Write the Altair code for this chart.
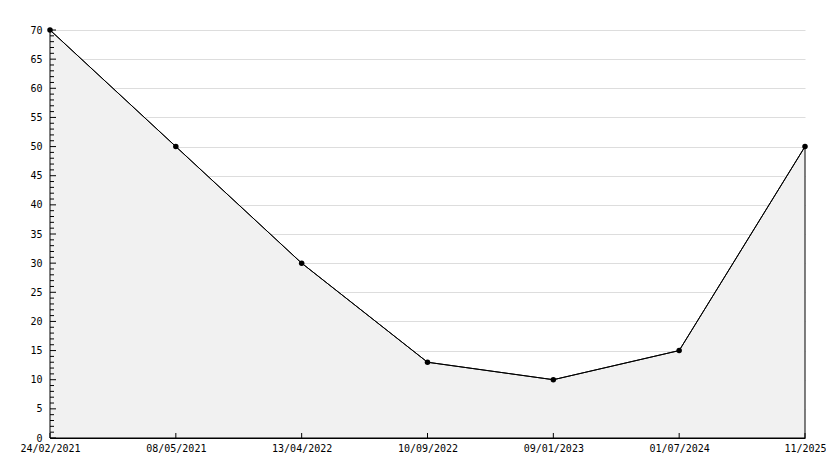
import altair as alt
import pandas as pd

labels = ["24/02/2021", "08/05/2021", "13/04/2022", "10/09/2022", "09/01/2023", "01/07/2024", "11/2025"]
values = [70, 50, 30, 13, 10, 15, 50]
y_ticks = list(range(0, 71))
y_label_values = list(range(0, 71, 5))

df = pd.DataFrame({"date": labels, "value": values})
ticks_df = pd.DataFrame({"t": y_ticks})
minor_df = ticks_df[ticks_df["t"] % 5 != 0]
major_df = ticks_df[ticks_df["t"] % 5 == 0]

W, H = 755, 408
FONT = "DejaVu Sans Mono"

xscale = alt.Scale(type="point", padding=0, domain=labels)
yscale = alt.Scale(domain=[0, 70], nice=False)

x_axis = alt.Axis(labelAngle=0, ticks=False, labelPadding=5, grid=False,
                  domainColor="black", labelFont=FONT, labelFontSize=10,
                  labelColor="black", labelOverlap=False)
y_axis = alt.Axis(values=y_label_values, ticks=False, labelPadding=8,
                  grid=True, gridColor="#dddddd", domainColor="black",
                  labelFont=FONT, labelFontSize=10, labelColor="black",
                  labelOverlap=False)

def xn():
    return alt.X("date:N", scale=xscale, sort=None, axis=x_axis, title=None)

def yn(f):
    return alt.Y(f, scale=yscale, axis=y_axis, title=None)

area = alt.Chart(df).mark_area(color="#f1f1f1", stroke="black", strokeWidth=1).encode(x=xn(), y=yn("value:Q"))
line = alt.Chart(df).mark_line(color="black", strokeWidth=1).encode(x=xn(), y=yn("value:Q"))
pts = alt.Chart(df).mark_point(shape="circle", filled=True, color="black", size=30, opacity=1).encode(
    x=xn(), y=yn("value:Q"))

xt = alt.Chart(df).mark_rule(color="black", strokeWidth=1).encode(
    x=xn(), y=alt.value(H - 5), y2=alt.value(H))
ymin = alt.Chart(minor_df).mark_rule(color="black", strokeWidth=1).encode(
    y=yn("t:Q"), x=alt.value(0), x2=alt.value(4))
ymaj = alt.Chart(major_df).mark_rule(color="black", strokeWidth=1).encode(
    y=yn("t:Q"), x=alt.value(0), x2=alt.value(6))

chart = alt.layer(area, line, xt, ymin, ymaj, pts).properties(
    width=W, height=H,
    autosize=alt.AutoSizeParams(type="none"),
    padding={"left": 42, "top": 22, "right": 21, "bottom": 30},
    background="white",
).configure_view(stroke=None)

chart.save("out.html", embed_options={"renderer": "svg", "actions": False})
